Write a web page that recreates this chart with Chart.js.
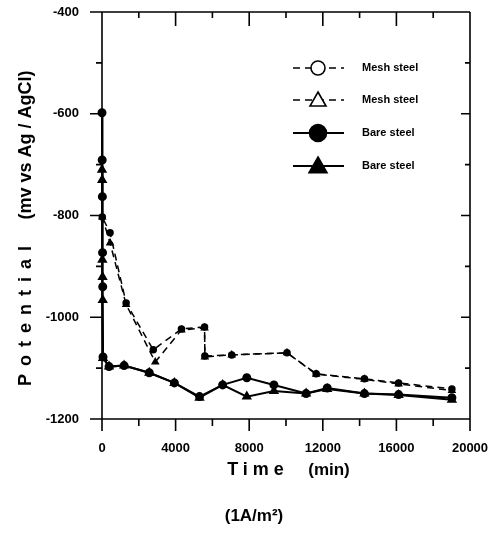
<!DOCTYPE html>
<html>
<head>
<meta charset="utf-8">
<script src="https://cdn.jsdelivr.net/npm/chart.js@4.4.1/dist/chart.umd.min.js"></script>
<style>
  html, body { margin: 0; padding: 0; background: #fff; }
  #wrap { width: 500px; height: 534px; }
</style>
</head>
<body>
<div id="wrap"><canvas id="potentialChart" width="500" height="534"></canvas></div>
<script>
// time (min) and potential (mV vs Ag/AgCl)
const meshCircleTime = [0, 15, 437, 1311, 2787, 4317, 5574, 5590, 7049, 10055, 11639, 14262, 16120, 19016];
const meshCircleMv = [-691, -803, -834, -972, -1064, -1023, -1019, -1076, -1074, -1070, -1111, -1121, -1129, -1141];
const meshTriTime = [0, 15, 437, 1311, 2896, 4317, 5574, 5590, 7049, 10055, 11639, 14262, 16120, 19016];
const meshTriMv = [-730, -803, -854, -975, -1088, -1025, -1021, -1078, -1074, -1070, -1112, -1122, -1131, -1144];
const bareCircleTime = [0, 10, 20, 30, 40, 55, 383, 1202, 2568, 3934, 5300, 6557, 7869, 9344, 11093, 12240, 14262, 16120, 19016];
const bareCircleMv = [-598, -691, -763, -873, -940, -1078, -1097, -1095, -1109, -1129, -1156, -1133, -1119, -1133, -1150, -1139, -1150, -1152, -1158];
const bareTriTime = [0, 10, 20, 30, 40, 55, 383, 1202, 2568, 3934, 5300, 6557, 7869, 9344, 11093, 12240, 14262, 16120, 19016];
const bareTriMv = [-710, -730, -887, -921, -966, -1080, -1097, -1095, -1109, -1129, -1158, -1133, -1156, -1145, -1150, -1141, -1150, -1153, -1162];

const xTickValues = [0, 2000, 4000, 6000, 8000, 10000, 12000, 14000, 16000, 18000, 20000];
const yTickValues = [-1200, -1100, -1000, -900, -800, -700, -600, -500, -400];
const legendLabels = ['Mesh steel', 'Mesh steel', 'Bare steel', 'Bare steel'];
const yTitleMain = 'Potential';
const yTitleUnit = '(mv vs Ag / AgCl)';
const xTitleMain = 'Time';
const xTitleUnit = '(min)';
const footNote = '(1A/m\u00B2)';

const FONT = '"Liberation Sans", Arial, sans-serif';

function toPoints(times, values) {
    return times.map((t, i) => ({ x: t, y: values[i] }));
}

// frame with inward ticks on top/right, outward on left/bottom
const framePlugin = {
    id: 'frame',
    afterDraw(chart) {
        const ctx = chart.ctx;
        const a = chart.chartArea;
        const xs = chart.scales.x;
        const ys = chart.scales.y;
        ctx.save();
        ctx.strokeStyle = '#000';
        ctx.lineWidth = 1.6;
        ctx.beginPath();
        ctx.moveTo(a.left, a.top);
        ctx.lineTo(a.left, a.bottom + 12);
        ctx.moveTo(a.left, a.bottom);
        ctx.lineTo(a.right, a.bottom);
        ctx.moveTo(a.left, a.top);
        ctx.lineTo(a.right, a.top);
        ctx.moveTo(a.right, a.top);
        ctx.lineTo(a.right, a.bottom + 4);
        xTickValues.forEach(v => {
            const px = xs.getPixelForValue(v);
            const major = v % 4000 === 0;
            ctx.moveTo(px, a.bottom);
            ctx.lineTo(px, a.bottom + (major ? 12 : 7));
            ctx.moveTo(px, a.top);
            ctx.lineTo(px, a.top + (major ? 14 : 6));
        });
        yTickValues.forEach(v => {
            const py = ys.getPixelForValue(v);
            const major = v % 200 === 0;
            ctx.moveTo(a.left - (major ? 12 : 6), py);
            ctx.lineTo(a.left, py);
            ctx.moveTo(a.right - (major ? 9 : 5), py);
            ctx.lineTo(a.right, py);
        });
        ctx.stroke();
        ctx.restore();
    }
};

const legendPlugin = {
    id: 'sideLegend',
    afterDraw(chart) {
        const ctx = chart.ctx;
        const rows = [68, 100, 133, 166];
        ctx.save();
        chart.data.datasets.forEach((ds, i) => {
            const y = rows[i];
            ctx.strokeStyle = '#000';
            ctx.lineWidth = ds.borderWidth;
            ctx.setLineDash(ds.borderDash || []);
            ctx.beginPath();
            ctx.moveTo(293, y);
            ctx.lineTo(344, y);
            ctx.stroke();
            ctx.setLineDash([]);
            const open = i < 2;
            ctx.fillStyle = open ? '#fff' : '#000';
            ctx.lineWidth = 1.6;
            ctx.beginPath();
            if (ds.pointStyle === 'circle') {
                ctx.arc(318, y, open ? 7 : 8.5, 0, Math.PI * 2);
            } else {
                const r = open ? 8 : 9;
                ctx.moveTo(318, y - r);
                ctx.lineTo(318 + r, y + r * 0.75);
                ctx.lineTo(318 - r, y + r * 0.75);
                ctx.closePath();
            }
            ctx.fill();
            ctx.stroke();
            ctx.fillStyle = '#000';
            ctx.font = 'bold 11px ' + FONT;
            ctx.textAlign = 'left';
            ctx.textBaseline = 'middle';
            ctx.fillText(legendLabels[i], 362, y);
        });
        ctx.restore();
    }
};

const titlePlugin = {
    id: 'axisTitles',
    afterDraw(chart) {
        const ctx = chart.ctx;
        ctx.save();
        ctx.fillStyle = '#000';
        ctx.textBaseline = 'middle';
        ctx.textAlign = 'center';
        // y title, rotated
        ctx.save();
        ctx.translate(26, 0);
        ctx.rotate(-Math.PI / 2);
        ctx.font = 'bold 18px ' + FONT;
        ctx.letterSpacing = '8px';
        ctx.fillText(yTitleMain, -312, 0);
        ctx.letterSpacing = '0px';
        ctx.fillText(yTitleUnit, -145, 0);
        ctx.restore();
        // x title
        ctx.font = 'bold 18px ' + FONT;
        ctx.letterSpacing = '5px';
        ctx.fillText(xTitleMain, 258, 470);
        ctx.letterSpacing = '0px';
        ctx.font = 'bold 17px ' + FONT;
        ctx.fillText(xTitleUnit, 329, 470);
        ctx.fillText(footNote, 254, 516);
        ctx.restore();
    }
};

const ctx = document.getElementById('potentialChart').getContext('2d');
new Chart(ctx, {
    type: 'line',
    data: {
        datasets: [
            {
                label: legendLabels[0],
                data: toPoints(meshCircleTime, meshCircleMv),
                borderColor: '#000',
                borderWidth: 1.5,
                borderDash: [7, 5],
                pointStyle: 'circle',
                pointRadius: 3,
                pointBackgroundColor: '#000',
                pointBorderColor: '#000',
                tension: 0,
                clip: false
            },
            {
                label: legendLabels[1],
                data: toPoints(meshTriTime, meshTriMv),
                borderColor: '#000',
                borderWidth: 1.5,
                borderDash: [7, 5],
                pointStyle: 'triangle',
                pointRadius: 3.5,
                pointBackgroundColor: '#000',
                pointBorderColor: '#000',
                tension: 0,
                clip: false
            },
            {
                label: legendLabels[2],
                data: toPoints(bareCircleTime, bareCircleMv),
                borderColor: '#000',
                borderWidth: 2,
                pointStyle: 'circle',
                pointRadius: 3.5,
                pointBackgroundColor: '#000',
                pointBorderColor: '#000',
                tension: 0,
                clip: false
            },
            {
                label: legendLabels[3],
                data: toPoints(bareTriTime, bareTriMv),
                borderColor: '#000',
                borderWidth: 2,
                pointStyle: 'triangle',
                pointRadius: 4,
                pointBackgroundColor: '#000',
                pointBorderColor: '#000',
                tension: 0,
                clip: false
            }
        ]
    },
    options: {
        responsive: false,
        animation: false,
        layout: { padding: { top: 12, right: 30, left: 0, bottom: 0 } },
        plugins: {
            legend: { display: false },
            tooltip: { enabled: false }
        },
        scales: {
            x: {
                type: 'linear',
                min: 0,
                max: 20000,
                grid: { display: false },
                border: { display: false },
                ticks: {
                    color: '#000',
                    font: { family: FONT, size: 13, weight: 'bold' },
                    padding: 14,
                    maxRotation: 0,
                    autoSkip: false,
                    callback: v => (v % 4000 === 0 ? String(v) : '')
                },
                afterBuildTicks: scale => {
                    scale.ticks = xTickValues.map(v => ({ value: v }));
                },
                afterFit: scale => {
                    scale.height = 115;
                    scale.paddingLeft = 0;
                    scale.paddingRight = 0;
                }
            },
            y: {
                min: -1200,
                max: -400,
                grid: { display: false },
                border: { display: false },
                ticks: {
                    color: '#000',
                    font: { family: FONT, size: 13, weight: 'bold' },
                    padding: 15,
                    autoSkip: false,
                    callback: v => (v % 200 === 0 ? String(v) : '')
                },
                afterBuildTicks: scale => {
                    scale.ticks = yTickValues.map(v => ({ value: v }));
                },
                afterFit: scale => {
                    scale.width = 102;
                    scale.paddingTop = 0;
                    scale.paddingBottom = 0;
                }
            }
        }
    },
    plugins: [framePlugin, legendPlugin, titlePlugin]
});
</script>
</body>
</html>
